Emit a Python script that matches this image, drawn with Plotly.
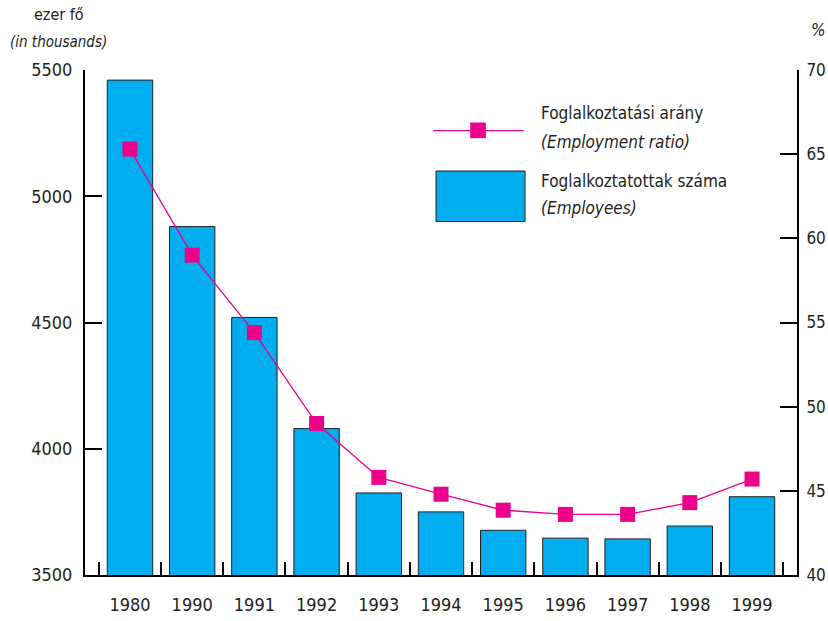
import plotly.graph_objects as go

# --- data ---
years = ["1980", "1990", "1991", "1992", "1993", "1994", "1995", "1996", "1997", "1998", "1999"]
employees = [5460, 4880, 4520, 4080, 3825, 3750, 3677, 3646, 3643, 3694, 3810]   # ezer fő
employment_ratio = [65.3, 59.0, 54.4, 49.0, 45.8, 44.8, 43.85, 43.6, 43.6, 44.3, 45.7]  # %

y1_ticks = [3500, 4000, 4500, 5000, 5500]
y2_ticks = [40, 45, 50, 55, 60, 65, 70]

FONT = "Liberation Sans Narrow, DejaVu Sans Condensed, sans-serif"
CYAN = "#00aeef"
MAGENTA = "#ec008c"
INK = "#231f20"

fig = go.Figure()

fig.add_trace(go.Bar(
    x=years, y=employees, name="Foglalkoztatottak száma",
    marker=dict(color=CYAN, line=dict(color=INK, width=1)),
    yaxis="y", showlegend=False,
))
fig.add_trace(go.Scatter(
    x=years, y=employment_ratio, name="Foglalkoztatási arány",
    mode="lines+markers",
    line=dict(color=MAGENTA, width=1.3),
    marker=dict(symbol="square", size=15, color=MAGENTA),
    yaxis="y2", showlegend=False,
))

axis_common = dict(showline=True, linewidth=2, linecolor="black", tickcolor="black",
                   tickwidth=2, showgrid=False, zeroline=False, automargin=False)

fig.update_layout(
    width=828, height=621,
    margin=dict(l=85, r=31, t=70, b=46),
    paper_bgcolor="white", plot_bgcolor="white",
    font=dict(family=FONT, size=18, color=INK),
    bargap=0.27,
    xaxis=dict(type="category", ticks="inside", tickson="boundaries", ticklen=13,
               ticklabelstandoff=12, **axis_common),
    yaxis=dict(range=[3500, 5500], tickvals=y1_ticks, ticks="inside", ticklen=17,
               layer="below traces", ticklabelstandoff=7, **axis_common),
    yaxis2=dict(range=[40, 70], tickvals=y2_ticks, overlaying="y", side="right",
                ticks="inside", ticklen=17, layer="below traces", ticklabelstandoff=4,
                tickfont=dict(size=17), **axis_common),
)

# axis captions
fig.add_annotation(xref="paper", yref="paper", x=-0.037, y=1.0, yshift=56,
                   text="ezer fő", showarrow=False, font=dict(size=16), xanchor="center", yanchor="middle")
fig.add_annotation(xref="paper", yref="paper", x=-0.037, y=1.0, yshift=28,
                   text="<i>(in thousands)</i>", showarrow=False, font=dict(size=15), xanchor="center", yanchor="middle")
fig.add_annotation(xref="paper", yref="paper", x=1.0, xshift=21, y=1.0, yshift=40,
                   text="<i>%</i>", showarrow=False, font=dict(size=17), xanchor="center", yanchor="middle")

# hand-drawn legend (paper coordinates)
fig.add_shape(type="line", xref="paper", yref="paper", x0=0.489, x1=0.616, y0=0.880, y1=0.880,
              line=dict(color=MAGENTA, width=1.3))
fig.add_shape(type="rect", xref="paper", yref="paper", x0=0.541, x1=0.563, y0=0.865, y1=0.896,
              line=dict(width=0), fillcolor=MAGENTA)
fig.add_shape(type="rect", xref="paper", yref="paper", x0=0.493, x1=0.618, y0=0.700, y1=0.800,
              line=dict(color=INK, width=1), fillcolor=CYAN)
legend_rows = [
    ("Foglalkoztatási arány", 0.914),
    ("<i>(Employment ratio)</i>", 0.858),
    ("Foglalkoztatottak száma", 0.781),
    ("<i>(Employees)</i>", 0.727),
]
for txt, yy in legend_rows:
    fig.add_annotation(xref="paper", yref="paper", x=0.637, y=yy, text=txt, showarrow=False,
                       xanchor="left", yanchor="middle", font=dict(size=17))

# drop the default 8px body margin so the 828x621 figure fills the window
fig.write_html("out.html", config={"displayModeBar": False},
               post_script="document.body.style.margin='0';document.body.style.overflow='hidden';")
